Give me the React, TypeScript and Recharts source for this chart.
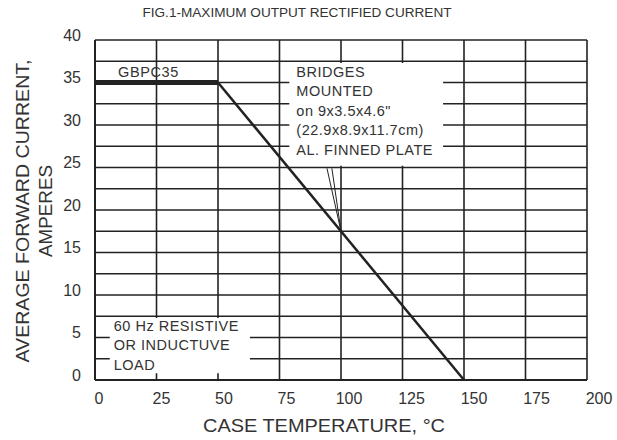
import {
  LineChart,
  Line,
  XAxis,
  YAxis,
  CartesianGrid,
  ReferenceArea,
  ReferenceLine,
  Customized,
} from 'recharts'

// derating curve: case temperature (°C) vs max average forward current (A)
const temps = [0, 50, 150]
const flatCurrent = [35, 35, null]
const slopeCurrent = [null, 35, 0]

const xTicks = [0, 25, 50, 75, 100, 125, 150, 175, 200]
const yTicks = [0, 2.5, 5, 7.5, 10, 12.5, 15, 17.5, 20, 22.5, 25, 27.5, 30, 32.5, 35, 37.5, 40]

const mountNote = ['BRIDGES', 'MOUNTED', 'on 9x3.5x4.6"', '(22.9x8.9x11.7cm)', 'AL. FINNED PLATE']
const loadNote = ['60 Hz RESISTIVE', 'OR INDUCTUVE', 'LOAD']

const data = temps.map((t, i) => ({ t, flat: flatCurrent[i], slope: slopeCurrent[i] }))

const FONT = '"Liberation Sans", Arial, sans-serif'
const INK = '#222'
const TEXT = '#333'

function noteLabel(lines: string[], dx: number, dy: number, step: number, size: number) {
  return (props: any) => {
    const vb = props.viewBox
    if (!vb) return null
    return (
      <text
        x={vb.x + dx}
        y={vb.y + dy}
        fontFamily={FONT}
        fontSize={size}
        letterSpacing={0.5}
        fill={TEXT}
      >
        {lines.map((l, i) => (
          <tspan key={i} x={vb.x + dx} dy={i === 0 ? 0 : step}>
            {l}
          </tspan>
        ))}
      </text>
    )
  }
}

// the scanned labels drift a little to the right of their grid lines
function XTick(props: any) {
  const { x, y, payload } = props
  const shift = 4 + payload.value * 0.04
  return (
    <text x={x + shift} y={y + 14} textAnchor="middle" fontFamily={FONT} fontSize={16} fill={TEXT}>
      {payload.value}
    </text>
  )
}

function Titles() {
  return (
    <g fontFamily={FONT} fill={TEXT}>
      <text x={297} y={17} fontSize={12} textAnchor="middle" textLength={309} lengthAdjust="spacingAndGlyphs">
        FIG.1-MAXIMUM OUTPUT RECTIFIED CURRENT
      </text>
      <text x={324} y={432} fontSize={18} textAnchor="middle" textLength={242} lengthAdjust="spacingAndGlyphs">
        CASE TEMPERATURE, °C
      </text>
      <text
        x={0}
        y={0}
        fontSize={18}
        textAnchor="middle"
        textLength={303}
        lengthAdjust="spacingAndGlyphs"
        transform="translate(29 211) rotate(-90)"
      >
        AVERAGE FORWARD CURRENT,
      </text>
      <text
        x={0}
        y={0}
        fontSize={18}
        textAnchor="middle"
        textLength={92}
        lengthAdjust="spacingAndGlyphs"
        transform="translate(52 211) rotate(-90)"
      >
        AMPERES
      </text>
      <text x={118} y={77} fontSize={14.5} letterSpacing={0.6}>
        GBPC35
      </text>
    </g>
  )
}

export default function App() {
  return (
    <div style={{ position: 'absolute', left: 0, top: 0, background: '#fff' }}>
      <LineChart
        width={617}
        height={440}
        data={data}
        margin={{ top: 40, right: 30, bottom: 0, left: 0 }}
      >
        <CartesianGrid stroke={INK} strokeWidth={1.6} horizontalValues={yTicks} verticalValues={xTicks} />
        <XAxis
          dataKey="t"
          type="number"
          domain={[0, 200]}
          ticks={xTicks}
          interval={0}
          height={60}
          axisLine={{ stroke: INK, strokeWidth: 2 }}
          tickLine={false}
          tick={<XTick />}
          tickMargin={4}
        />
        <YAxis
          type="number"
          domain={[0, 40]}
          ticks={yTicks}
          interval={0}
          width={95}
          axisLine={{ stroke: INK, strokeWidth: 2 }}
          tickLine={false}
          tick={{ fontSize: 16, fill: TEXT, fontFamily: FONT, dy: -5 }}
          tickMargin={8}
          tickFormatter={(v: number) => (v % 5 === 0 ? String(v) : '')}
        />
        <ReferenceArea
          x1={79}
          x2={141.5}
          y1={25.2}
          y2={37.3}
          fill="#fff"
          fillOpacity={1}
          stroke="none"
          ifOverflow="visible"
          label={noteLabel(mountNote, 7, 14, 19.4, 14.5)}
        />
        <ReferenceArea
          x1={6}
          x2={63}
          y1={0.8}
          y2={7.3}
          fill="#fff"
          fillOpacity={1}
          stroke="none"
          ifOverflow="visible"
          label={noteLabel(loadNote, 4, 13, 19.4, 14.5)}
        />
        <ReferenceLine
          segment={[{ x: 94.3, y: 24.9 }, { x: 100, y: 17.5 }]}
          stroke={INK}
          strokeWidth={1}
        />
        <ReferenceLine
          segment={[{ x: 96.3, y: 24.9 }, { x: 100, y: 17.5 }]}
          stroke={INK}
          strokeWidth={1}
        />
        <Line
          dataKey="flat"
          type="linear"
          stroke={INK}
          strokeWidth={5}
          dot={false}
          isAnimationActive={false}
        />
        <Line
          dataKey="slope"
          type="linear"
          stroke={INK}
          strokeWidth={2.5}
          dot={false}
          isAnimationActive={false}
        />
        <Customized component={Titles} />
      </LineChart>
    </div>
  )
}
